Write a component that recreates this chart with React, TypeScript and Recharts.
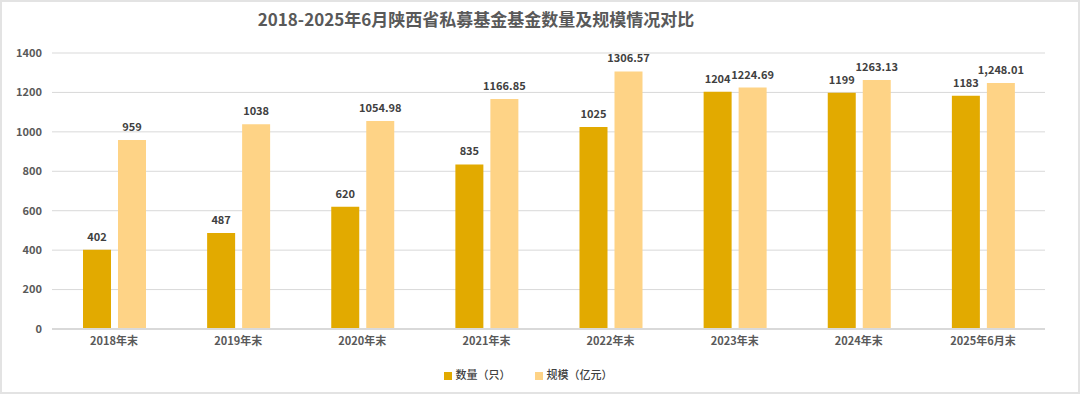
import { BarChart, Bar, XAxis, YAxis, CartesianGrid, Legend, LabelList } from 'recharts';

const categories = ['2018年末', '2019年末', '2020年末', '2021年末', '2022年末', '2023年末', '2024年末', '2025年6月末'];
const countValues = [402, 487, 620, 835, 1025, 1204, 1199, 1183];
const sizeValues = [959, 1038, 1054.98, 1166.85, 1306.57, 1224.69, 1263.13, 1248.01];
const sizeLabels = ['959', '1038', '1054.98', '1166.85', '1306.57', '1224.69', '1263.13', '1,248.01'];
const yTicks = [0, 200, 400, 600, 800, 1000, 1200, 1400];

const data = categories.map((name, i) => ({
  name,
  count: countValues[i],
  size: sizeValues[i],
  sizeLabel: sizeLabels[i],
}));

const FONT = '"Noto Sans CJK SC", "Noto Sans", sans-serif';
const labelStyle = { fill: '#404040', fontSize: 11, fontWeight: 700, fontFamily: FONT };

export default function App() {
  return (
    <div style={{ position: 'absolute', left: 0, top: 0, width: 1080, height: 394, background: '#fff', fontFamily: FONT }}>
      <div
        style={{
          position: 'absolute',
          top: 6,
          left: 0,
          width: 952,
          textAlign: 'center',
          fontSize: 17,
          fontWeight: 700,
          color: '#595959',
          zIndex: 2,
        }}
      >
        2018-2025年6月陕西省私募基金基金数量及规模情况对比
      </div>
      <BarChart
        width={1080}
        height={394}
        data={data}
        margin={{ top: 53, right: 35, bottom: 35, left: 0 }}
        barSize={28}
        barGap={7}
      >
        <CartesianGrid vertical={false} stroke="#d9d9d9" />
        <XAxis
          dataKey="name"
          tickLine={false}
          axisLine={{ stroke: '#d9d9d9', strokeWidth: 2 }}
          tick={{ fill: '#595959', fontSize: 11, fontWeight: 700, fontFamily: FONT }}
          height={30}
        />
        <YAxis
          width={52}
          domain={[0, 1400]}
          ticks={yTicks}
          tickLine={false}
          axisLine={false}
          tickMargin={4}
          tick={{ fill: '#595959', fontSize: 11, fontWeight: 700, fontFamily: FONT }}
        />
        <Legend
          verticalAlign="middle"
          align="center"
          layout="horizontal"
          iconType="square"
          iconSize={8}
          wrapperStyle={{ top: 366, left: 440, width: 200, fontSize: 11, fontWeight: 500, fontFamily: FONT }}
          formatter={(value: string) => <span style={{ color: '#404040', paddingRight: 14 }}>{value}</span>}
        />
        <Bar dataKey="count" name="数量（只）" fill="#E2AA00" isAnimationActive={false}>
          <LabelList dataKey="count" position="top" offset={9} style={labelStyle} />
        </Bar>
        <Bar dataKey="size" name="规模（亿元）" fill="#FED386" isAnimationActive={false}>
          <LabelList dataKey="sizeLabel" position="top" offset={9} style={labelStyle} />
        </Bar>
      </BarChart>
      <div
        style={{
          position: 'absolute',
          left: 0,
          top: 0,
          width: 1080,
          height: 394,
          boxSizing: 'border-box',
          border: '2px solid #e3e3e3',
          pointerEvents: 'none',
        }}
      />
    </div>
  );
}
